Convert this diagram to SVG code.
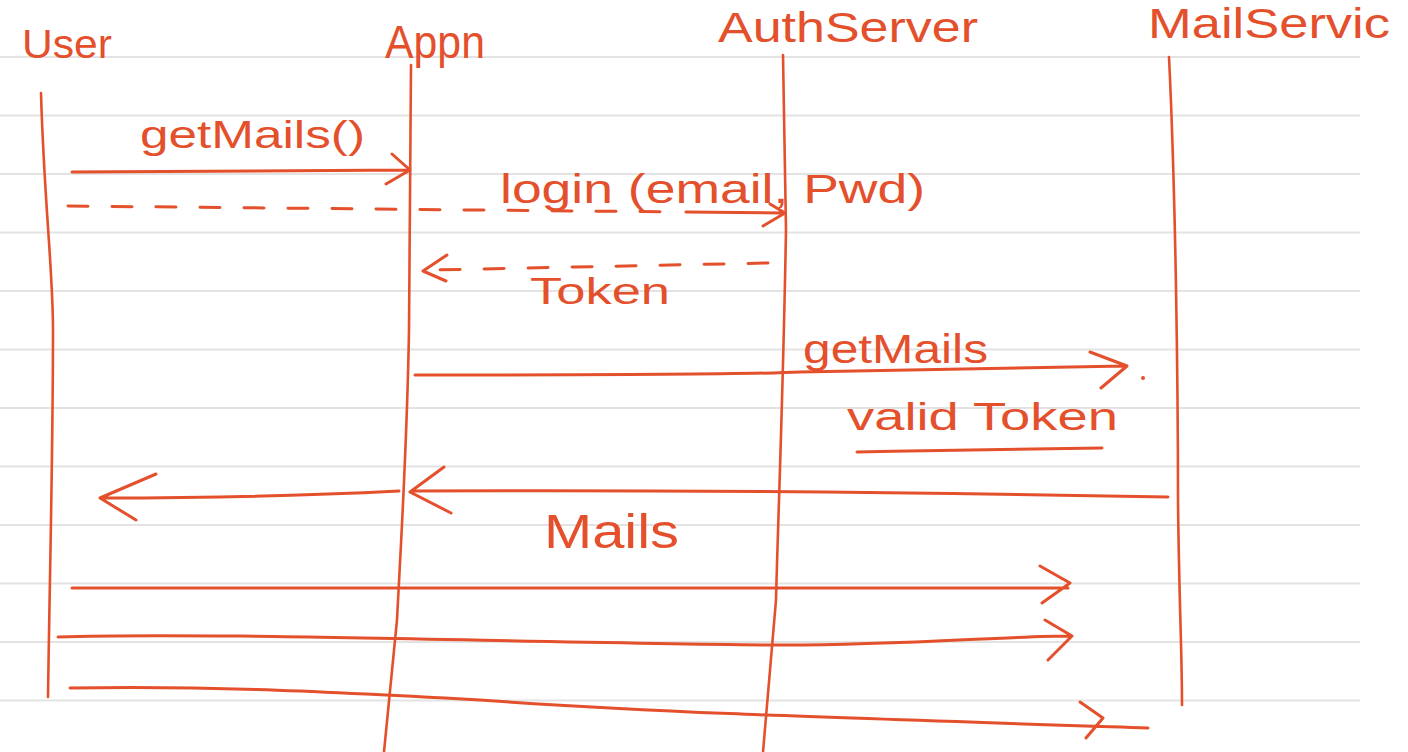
<svg xmlns="http://www.w3.org/2000/svg" width="1408" height="752" viewBox="0 0 1408 752">
<style>
.rule{stroke:#e3e3e3;stroke-width:2;fill:none}
.life{stroke:#e4502c;stroke-width:2.6;fill:none;stroke-linecap:round}
.msg{stroke:#e4502c;stroke-width:3;fill:none;stroke-linecap:round;stroke-linejoin:round}
.dash{stroke-dasharray:20 24}
.lbl{font-family:"Liberation Sans",Arial,sans-serif;fill:#e4502c}
</style>
<rect width="1408" height="752" fill="#ffffff"/>
<g id="paper">
<path class="rule" d="M0,57H1360M0,115.5H1360M0,174H1360M0,232.5H1360M0,291H1360M0,349.5H1360M0,408H1360M0,466.5H1360M0,525H1360M0,583.5H1360M0,642H1360M0,700.5H1360"/>
</g>
<g id="user">
<path class="life" d="M41,93 C44,200 53,270 53,330 C53,450 50,560 48,697"/>
<text class="lbl" x="22" y="58" font-size="40" textLength="90" lengthAdjust="spacingAndGlyphs">User</text>
</g>
<g id="appn">
<path class="life" d="M411,65 L409,330 C407,450 400,560 397,620 L384,752"/>
<text class="lbl" x="385" y="58" font-size="46" textLength="100" lengthAdjust="spacingAndGlyphs">Appn</text>
</g>
<g id="authserver">
<path class="life" d="M783,55 L786,230 C783,400 778,520 776,600 L763,752"/>
<text class="lbl" x="718" y="42" font-size="42" textLength="260" lengthAdjust="spacingAndGlyphs">AuthServer</text>
</g>
<g id="mailservice">
<path class="life" d="M1169,57 C1176,200 1178,400 1178,500 C1179,600 1182,650 1182,705"/>
<text class="lbl" x="1148" y="38" font-size="42" textLength="242" lengthAdjust="spacingAndGlyphs">MailServic</text>
</g>
<g id="connectors">
<path class="msg" d="M72,172 L410,170 M392,154 L410,170 L386,184"/>
<path class="msg dash" d="M68,206 L680,212"/>
<path class="msg" d="M686,212 L783,213 M770,204 L785,213 L763,226"/>
<path class="msg dash" d="M768,263 L430,270"/>
<path class="msg" d="M447,255 L423,271 L446,281"/>
<path class="msg" d="M415,375 C600,375 760,374 800,372 L1125,366 M1090,352 L1127,366 L1101,388"/>
<circle cx="1143" cy="378" r="2" fill="#e4502c"/>
<path class="msg" d="M857,452 C950,450 1050,449 1102,448"/>
<path class="msg" d="M1168,497 C900,492 600,490 412,491 M444,467 L410,492 L451,513"/>
<path class="msg" d="M399,491 C300,496 200,498 105,498 M156,474 L100,498 L136,520"/>
<path class="msg" d="M72,588 L1068,588 M1040,566 L1070,583 L1042,603"/>
<path class="msg" d="M58,637 C200,632 500,642 770,645 C900,646 1000,636 1072,636 M1045,620 L1072,636 L1048,660"/>
<path class="msg" d="M70,688 C200,686 300,690 480,700 C650,712 780,716 1148,728 M1080,702 L1103,718 L1086,738"/>
</g>
<g id="labels">
<text class="lbl" x="140" y="148" font-size="38" textLength="225" lengthAdjust="spacingAndGlyphs">getMails()</text>
<text class="lbl" x="500" y="203" font-size="40" textLength="425" lengthAdjust="spacingAndGlyphs">login (email, Pwd)</text>
<text class="lbl" x="530" y="304" font-size="36" textLength="140" lengthAdjust="spacingAndGlyphs">Token</text>
<text class="lbl" x="803" y="363" font-size="40" textLength="185" lengthAdjust="spacingAndGlyphs">getMails</text>
<text class="lbl" x="847" y="430" font-size="38" textLength="271" lengthAdjust="spacingAndGlyphs">valid Token</text>
<text class="lbl" x="544" y="548" font-size="48" textLength="135" lengthAdjust="spacingAndGlyphs">Mails</text>
</g>
</svg>
